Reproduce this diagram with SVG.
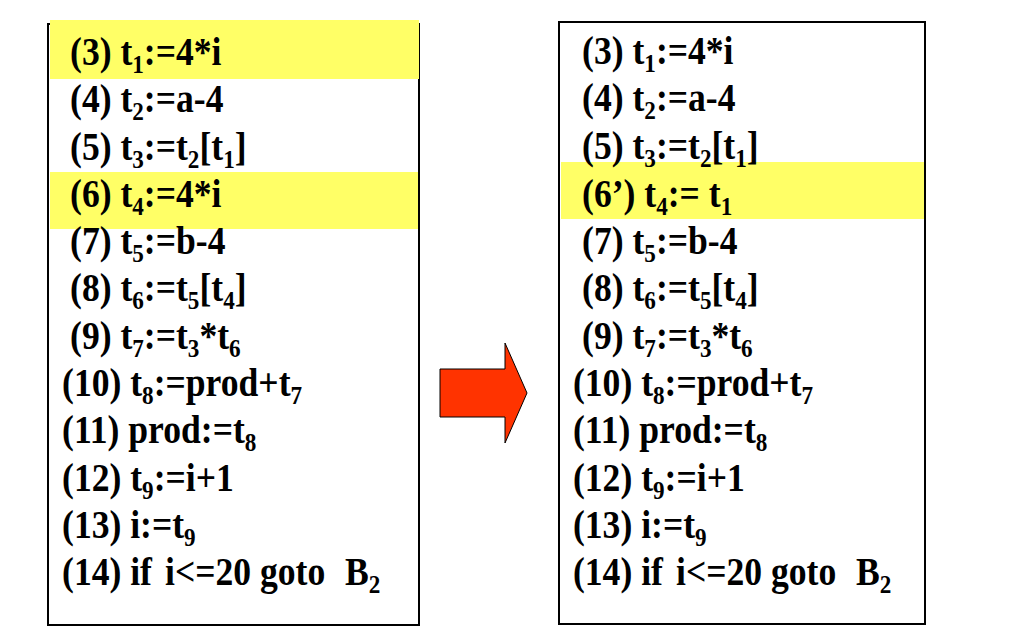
<svg xmlns="http://www.w3.org/2000/svg" width="1024" height="633" viewBox="0 0 1024 633">
<style>
.box{fill:#FFFFFF;stroke:#000000;stroke-width:2}
.hl{fill:#FFFF66}
.code{font-family:"Liberation Serif","Times New Roman",serif;font-weight:bold;font-size:40px;fill:#000000}
.s{font-size:26px}
.arrow{fill:#FF3300;stroke:#000000;stroke-width:1}
</style>
<rect width="1024" height="633" fill="#FFFFFF"/>
<g id="block-before">
<rect class="box" x="48" y="24" width="371" height="601"/>
<rect class="hl" x="50" y="20" width="369" height="59"/>
<rect class="hl" x="50" y="172" width="368" height="57"/>
<g class="code" transform="scale(0.89,1)">
<text x="78.7" y="65">(3) t<tspan class="s" dy="8">1</tspan><tspan dy="-8">:=4*i</tspan></text>
<text x="78.7" y="112.3">(4) t<tspan class="s" dy="8">2</tspan><tspan dy="-8">:=a-4</tspan></text>
<text x="78.7" y="159.6">(5) t<tspan class="s" dy="8">3</tspan><tspan dy="-8">:=t</tspan><tspan class="s" dy="8">2</tspan><tspan dy="-8">[t</tspan><tspan class="s" dy="8">1</tspan><tspan dy="-8">]</tspan></text>
<text x="78.7" y="206.9">(6) t<tspan class="s" dy="8">4</tspan><tspan dy="-8">:=4*i</tspan></text>
<text x="78.7" y="254.2">(7) t<tspan class="s" dy="8">5</tspan><tspan dy="-8">:=b-4</tspan></text>
<text x="78.7" y="301.5">(8) t<tspan class="s" dy="8">6</tspan><tspan dy="-8">:=t</tspan><tspan class="s" dy="8">5</tspan><tspan dy="-8">[t</tspan><tspan class="s" dy="8">4</tspan><tspan dy="-8">]</tspan></text>
<text x="78.7" y="348.8">(9) t<tspan class="s" dy="8">7</tspan><tspan dy="-8">:=t</tspan><tspan class="s" dy="8">3</tspan><tspan dy="-8">*t</tspan><tspan class="s" dy="8">6</tspan></text>
<text x="69.7" y="396.1">(10) t<tspan class="s" dy="8">8</tspan><tspan dy="-8">:=prod+t</tspan><tspan class="s" dy="8">7</tspan></text>
<text x="69.7" y="443.4">(11) prod:=t<tspan class="s" dy="8">8</tspan></text>
<text x="69.7" y="490.7">(12) t<tspan class="s" dy="8">9</tspan><tspan dy="-8">:=i+1</tspan></text>
<text x="69.7" y="538">(13) i:=t<tspan class="s" dy="8">9</tspan></text>
<text x="69.7" y="585.3">(14) if <tspan x="185.4">i&lt;=20 goto </tspan><tspan x="387.6">B</tspan><tspan class="s" dy="8">2</tspan></text>
</g>
</g>
<g id="block-after">
<rect class="box" x="559" y="22" width="366" height="602"/>
<rect class="hl" x="561" y="162" width="363" height="57"/>
<g class="code" transform="scale(0.89,1)">
<text x="654" y="64">(3) t<tspan class="s" dy="8">1</tspan><tspan dy="-8">:=4*i</tspan></text>
<text x="654" y="111.3">(4) t<tspan class="s" dy="8">2</tspan><tspan dy="-8">:=a-4</tspan></text>
<text x="654" y="158.6">(5) t<tspan class="s" dy="8">3</tspan><tspan dy="-8">:=t</tspan><tspan class="s" dy="8">2</tspan><tspan dy="-8">[t</tspan><tspan class="s" dy="8">1</tspan><tspan dy="-8">]</tspan></text>
<text x="654" y="206.9">(6’) t<tspan class="s" dy="8">4</tspan><tspan dy="-8">:= t</tspan><tspan class="s" dy="8">1</tspan></text>
<text x="654" y="254.2">(7) t<tspan class="s" dy="8">5</tspan><tspan dy="-8">:=b-4</tspan></text>
<text x="654" y="301.5">(8) t<tspan class="s" dy="8">6</tspan><tspan dy="-8">:=t</tspan><tspan class="s" dy="8">5</tspan><tspan dy="-8">[t</tspan><tspan class="s" dy="8">4</tspan><tspan dy="-8">]</tspan></text>
<text x="654" y="348.8">(9) t<tspan class="s" dy="8">7</tspan><tspan dy="-8">:=t</tspan><tspan class="s" dy="8">3</tspan><tspan dy="-8">*t</tspan><tspan class="s" dy="8">6</tspan></text>
<text x="643.8" y="396.1">(10) t<tspan class="s" dy="8">8</tspan><tspan dy="-8">:=prod+t</tspan><tspan class="s" dy="8">7</tspan></text>
<text x="643.8" y="443.4">(11) prod:=t<tspan class="s" dy="8">8</tspan></text>
<text x="643.8" y="490.7">(12) t<tspan class="s" dy="8">9</tspan><tspan dy="-8">:=i+1</tspan></text>
<text x="643.8" y="538">(13) i:=t<tspan class="s" dy="8">9</tspan></text>
<text x="643.8" y="585.3">(14) if <tspan x="759.6">i&lt;=20 goto </tspan><tspan x="961.8">B</tspan><tspan class="s" dy="8">2</tspan></text>
</g>
</g>
<g id="connectors">
<polygon class="arrow" points="440,369 505,369 505,343 527,393 505,443 505,417 440,417"/>
</g>
</svg>
